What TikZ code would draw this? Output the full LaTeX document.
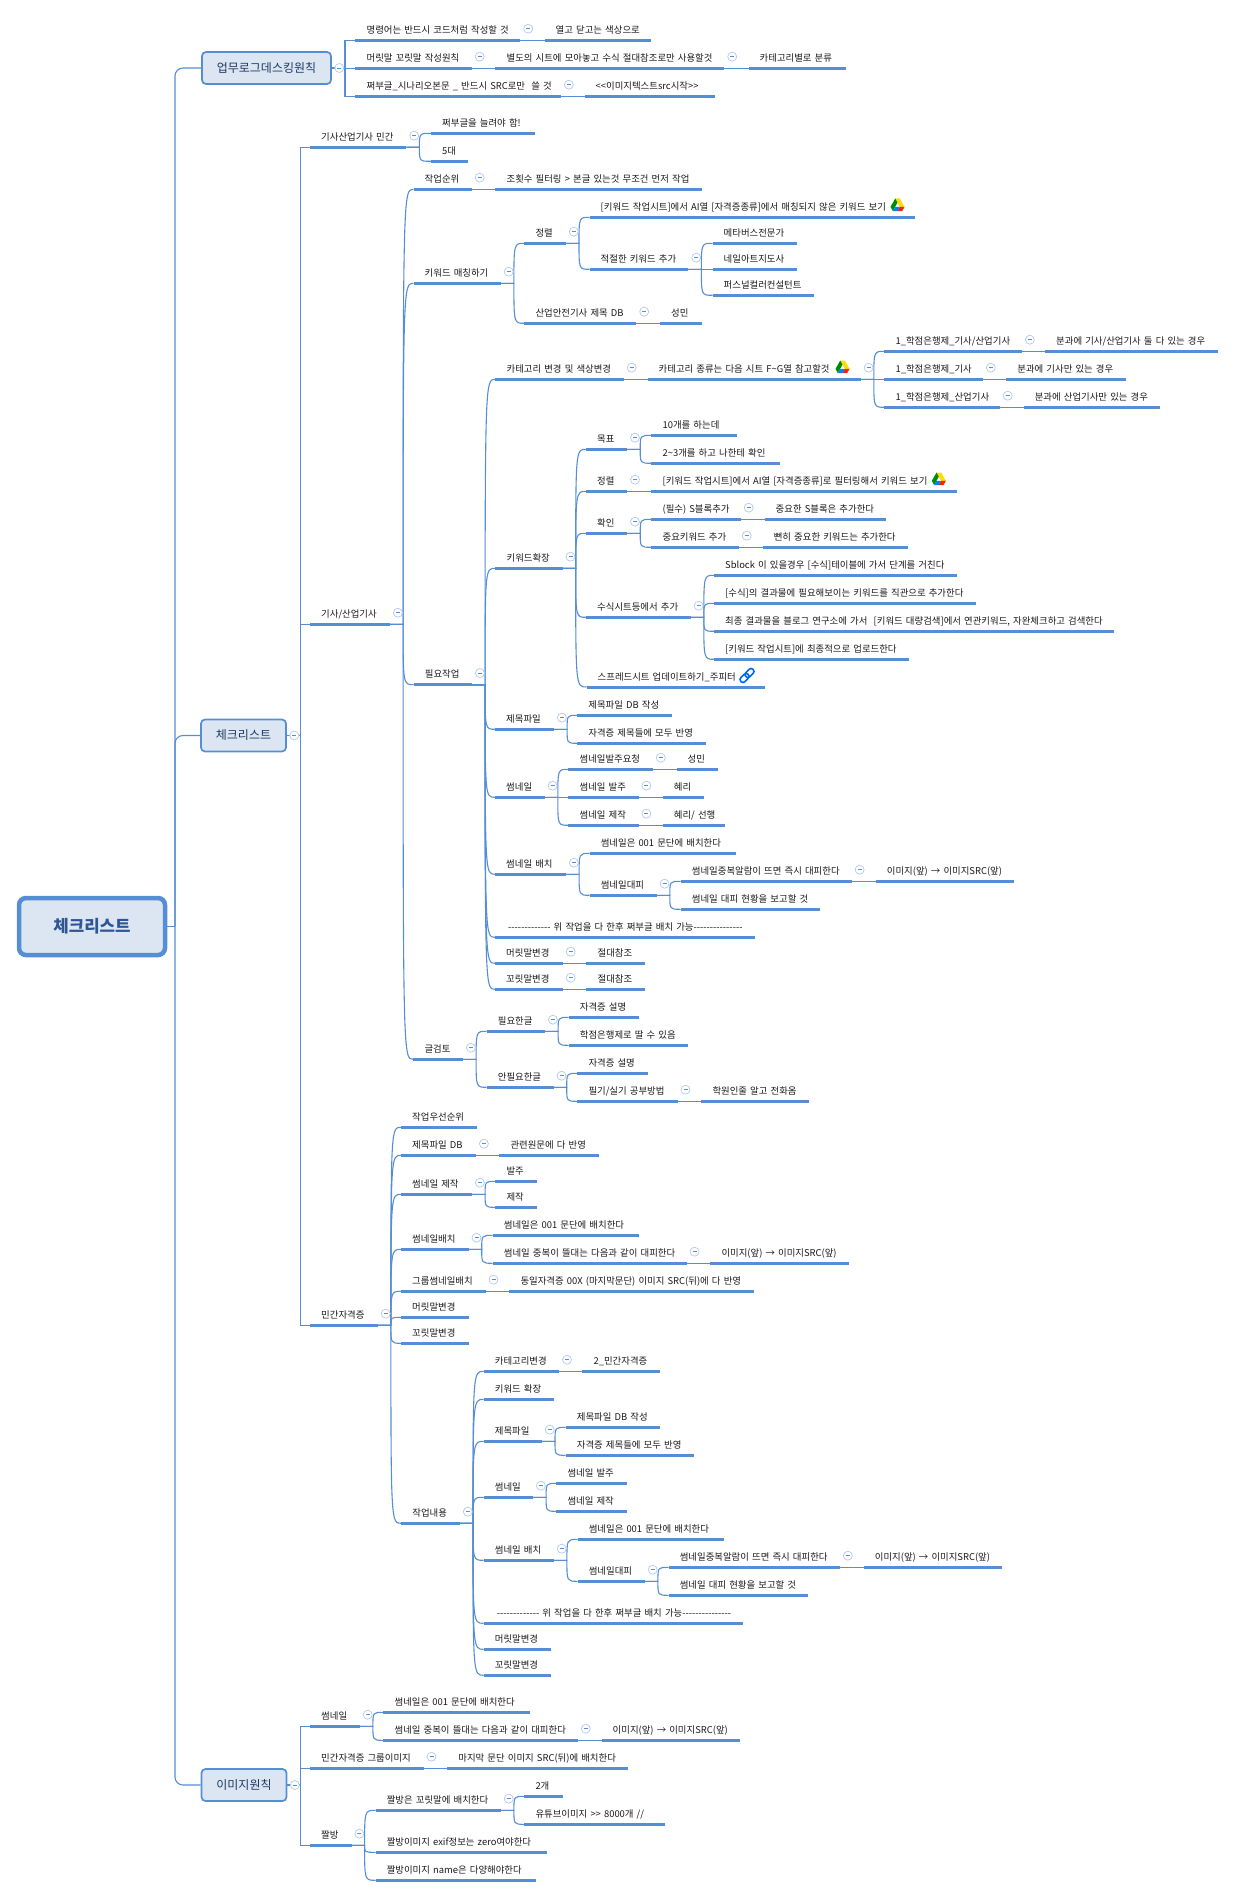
\documentclass[tikz,border=0pt]{standalone}
\usepackage{fontspec}
\setmainfont{Noto Sans CJK KR}
\usetikzlibrary{positioning, calc}

\definecolor{mapblue}{HTML}{558ED5}
\definecolor{boxfill}{HTML}{DCE6F2}
\definecolor{boxtext}{HTML}{1F3864}
\definecolor{roottext}{HTML}{2F5597}
\definecolor{foldblue}{HTML}{B4C7F0}

\tikzset{
  topic/.style={anchor=south west, inner xsep=11pt, inner ysep=4.25pt, text height=9pt, text depth=2.5pt,
    align=left, text=black!90, font=\fontsize{9.4}{11}\selectfont},
  topicbar/.style={draw=mapblue, line width=3pt},
  link/.style={draw=mapblue, line width=1.1pt},
  rootbox/.style={draw=mapblue, fill=boxfill, line width=4.5pt, rounded corners=7pt, minimum width=146pt,
    minimum height=57pt, text=roottext, font=\fontsize{16.8}{20}\selectfont\bfseries},
  groupbox/.style={draw=mapblue, fill=boxfill, line width=1.7pt, rounded corners=4pt, minimum height=32pt,
    text=boxtext, font=\fontsize{12}{14}\selectfont},
  fold/.style={circle, draw=foldblue, fill=white, minimum size=9pt, inner sep=0pt, line width=.7pt,
    path picture={\draw[mapblue, line width=.5pt] ([xshift=-2pt]path picture bounding box.center) -- ([xshift=2pt]path picture bounding box.center);}},
  drive/.pic={
    \fill[yellow!80!orange] (-2.3,-6.5) -- (2.3,-6.5) -- (7,1.9) -- (2.3,1.9) -- cycle;
    \fill[green!55!black] (-2.3,-6.5) -- (0,-2.4) -- (-4.7,6) -- (-7,1.9) -- cycle;
    \fill[red!75!orange] (2.3,1.9) -- (7,1.9) -- (4.7,6) -- (0,6) -- cycle;
    \fill[blue!50!cyan] (-2.3,1.9) -- (2.3,1.9) -- (0,6) -- (-4.7,6) -- cycle;
  },
  chain/.pic={
    \draw[blue!60!cyan, line width=1.6pt, rounded corners=2.4pt, rotate=45] (-8.5,-2.8) rectangle (1.5,2.8) (-1.5,-2.8) rectangle (8.5,2.8);
  }
}

\newcommand{\topic}[5]{
  \node[topic, text width={(#3-#2-22)*1pt}] (#1) at (#2,#4) {\mbox{#5}};
  \draw[topicbar] (#1.south west) -- (#1.south east);
}
\newcommand{\linkto}[2]{\draw[link] (#1.south east) -- (#2.south west);}
\newcommand{\forkto}[2]{
  \coordinate (#1x) at ([xshift=13pt]#1.south east);
  \foreach \kid in {#2} {
    \draw[link] (#1.south east) -- (#1x) .. controls (#1x |- \kid.south west) .. (\kid.south west);
  }
}
\newcommand{\imgarrow}{이미지(앞) → 이미지SRC(앞)}
\newcommand{\laterline}{\hspace*{2pt}-{}-{}-{}-{}-{}-{}-{}-{}-{}-{}-{}-{}-{} 위 작업을 다 한후 쩌부글 배치 가능-{}-{}-{}-{}-{}-{}-{}-{}-{}-{}-{}-{}-{}-{}-{}}

\begin{document}
\begin{tikzpicture}[x=1pt, y=-1pt]
  \useasboundingbox (0,0) rectangle (1235,1897);

  \node[rootbox] (root) at (92,926.5) {체크리스트};
  \node[groupbox, minimum width=129pt] (upload) at (266.5,68) {업무로그데스킹원칙};
  \node[groupbox, minimum width=85pt] (check) at (243.5,735.5) {체크리스트};
  \node[groupbox, minimum width=85pt] (image) at (244,1785) {이미지원칙};

  \coordinate (hub) at (175,926.5);
  \coordinate (uploadhub) at (345,68);
  \coordinate (checkhub) at (300.3,735.5);
  \coordinate (imagehub) at (300.3,1785);

  \topic{ruleA}{355.4}{520}{40.3}{명령어는 반드시 코드처럼 작성할 것}
  \topic{ruleAa}{544.5}{651}{40.3}{열고 닫고는 색상으로}
  \topic{ruleB}{355.4}{471.5}{68.3}{머릿말 꼬릿말 작성원칙}
  \topic{ruleBa}{495.4}{724}{68.3}{별도의 시트에 모아놓고 수식 절대참조로만 사용할것}
  \topic{ruleBb}{748.5}{845.5}{68.3}{카테고리별로 분류}
  \topic{ruleC}{355.4}{560.6}{96.3}{쩌부글\_시나리오본문 \_ 반드시 SRC로만\ \ 쓸 것}
  \topic{ruleCa}{584.5}{715}{96.3}{<{}<이미지텍스트src시작>{}>}

  \topic{civil}{310}{406}{147.3}{기사산업기사 민간}
  \topic{civilA}{431}{535}{133.3}{쩌부글을 늘려야 함!}
  \topic{civilB}{431}{468}{161.3}{5대}

  \topic{eng}{310}{389.7}{624.3}{기사/산업기사}
  \topic{order}{413.5}{471.5}{189.3}{작업순위}
  \topic{orderA}{495.4}{701.5}{189.3}{조횟수 필터링 > 본글 있는것 무조건 먼저 작업}
  \topic{match}{413.5}{500.5}{283.3}{키워드 매칭하기}
  \topic{sortA}{524.3}{565.6}{243.3}{정렬}
  \topic{sortAa}{589.5}{914.5}{217.3}{[키워드 작업시트]에서 AI열 [자격증종류]에서 매칭되지 않은 키워드 보기}
  \topic{addkw}{589.5}{688}{269.3}{적절한 키워드 추가}
  \topic{addkwA}{712.5}{796.5}{243.3}{메타버스전문가}
  \topic{addkwB}{712.5}{796.5}{269.3}{네일아트지도사}
  \topic{addkwC}{712.5}{814}{295.3}{퍼스널컬러컨설턴트}
  \topic{safedb}{524.3}{636}{323.3}{산업안전기사 제목 DB}
  \topic{safedbA}{660}{701.5}{323.3}{성민}

  \topic{need}{413.7}{471.7}{684.7}{필요작업}
  \topic{cat}{495.4}{623.5}{379.3}{카테고리 변경 및 색상변경}
  \topic{catA}{647.5}{860.4}{379.3}{카테고리 종류는 다음 시트 F\textasciitilde G열 참고할것}
  \topic{credA}{884.4}{1021.6}{351.3}{1\_학점은행제\_기사/산업기사}
  \topic{credAa}{1045}{1217.6}{351.3}{분과에 기사/산업기사 둘 다 있는 경우}
  \topic{credB}{884.4}{982.6}{379.3}{1\_학점은행제\_기사}
  \topic{credBa}{1006.2}{1125.6}{379.3}{분과에 기사만 있는 경우}
  \topic{credC}{884.4}{999.5}{407.3}{1\_학점은행제\_산업기사}
  \topic{credCa}{1023.6}{1159.3}{407.3}{분과에 산업기사만 있는 경우}

  \topic{expand}{495.4}{562.3}{568.3}{키워드확장}
  \topic{goal}{586}{626.8}{449.3}{목표}
  \topic{goalA}{651.4}{736.6}{435.3}{10개를 하는데}
  \topic{goalB}{651.4}{779.5}{463.3}{2\textasciitilde 3개를 하고 나한테 확인}
  \topic{sortB}{586}{626.8}{491.3}{정렬}
  \topic{sortBa}{651.4}{956.7}{491.3}{[키워드 작업시트]에서 AI열 [자격증종류]로 필터링해서 키워드 보기}
  \topic{verify}{586}{626.8}{533.3}{확인}
  \topic{verifyA}{651.4}{740.5}{519.3}{(필수) S블록추가}
  \topic{verifyAa}{764.5}{885.4}{519.3}{중요한 S블록은 추가한다}
  \topic{verifyB}{651.4}{738.5}{547.3}{중요키워드 추가}
  \topic{verifyBa}{762.6}{907.5}{547.3}{뻔히 중요한 키워드는 추가한다}
  \topic{sheet}{586}{690.4}{617.3}{수식시트등에서 추가}
  \topic{sheetA}{714}{956.7}{575.3}{Sblock 이 있을경우 [수식]테이블에 가서 단계를 거친다}
  \topic{sheetB}{714}{975.4}{603.3}{[수식]의 결과물에 필요해보이는 키워드를 직관으로 추가한다}
  \topic{sheetC}{714}{1113.6}{631.3}{최종 결과물을 블로그 연구소에 가서\ \ [키워드 대량검색]에서 연관키워드, 자완체크하고 검색한다}
  \topic{sheetD}{714}{908.5}{659.3}{[키워드 작업시트]에 최종적으로 업로드한다}
  \topic{jupyter}{586.5}{764.5}{687}{스프레드시트 업데이트하기\_주피터}

  \topic{title}{495}{553.7}{729.3}{제목파일}
  \topic{titleA}{577.2}{671.5}{715.3}{제목파일 DB 작성}
  \topic{titleB}{577.2}{705.6}{743.3}{자격증 제목들에 모두 반영}

  \topic{thumb}{495}{544.4}{797.3}{썸네일}
  \topic{thumbA}{568.4}{652.6}{769.3}{썸네일발주요청}
  \topic{thumbAa}{676.5}{717.4}{769.3}{성민}
  \topic{thumbB}{568.4}{638.2}{797.3}{썸네일 발주}
  \topic{thumbBa}{662.7}{703.5}{797.3}{혜리}
  \topic{thumbC}{568.4}{638.2}{825.3}{썸네일 제작}
  \topic{thumbCa}{662.7}{724.5}{825.3}{혜리/ 선행}

  \topic{place}{495}{565.7}{874.3}{썸네일 배치}
  \topic{placeA}{589.6}{735.4}{853.3}{썸네일은 001 문단에 배치한다}
  \topic{dodge}{589.6}{656.4}{895.3}{썸네일대피}
  \topic{dodgeA}{680.7}{851.4}{881.3}{썸네일중복알람이 뜨면 즉시 대피한다}
  \topic{dodgeAa}{875.7}{1013.2}{881.3}{\imgarrow}
  \topic{dodgeB}{680.7}{819.3}{909.3}{썸네일 대피 현황을 보고할 것}
  \topic{later}{495}{754.3}{937.3}{\laterline}
  \topic{head}{495}{562.5}{963.3}{머릿말변경}
  \topic{headA}{586.4}{644.3}{963.3}{절대참조}
  \topic{tail}{495}{562.5}{989.3}{꼬릿말변경}
  \topic{tailA}{586.4}{644.3}{989.3}{절대참조}

  \topic{review}{413.3}{462.7}{1059.3}{글검토}
  \topic{must}{486.7}{544.7}{1031.3}{필요한글}
  \topic{mustA}{568.7}{638.7}{1017.3}{자격증 설명}
  \topic{mustB}{568.7}{687.3}{1045.3}{학점은행제로 딸 수 있음}
  \topic{nomust}{486.7}{553.3}{1087.3}{안필요한글}
  \topic{nomustA}{577.3}{647.3}{1073.3}{자격증 설명}
  \topic{nomustB}{577.3}{677.3}{1101.3}{필기/실기 공부방법}
  \topic{nomustBa}{701.3}{808.7}{1101.3}{학원인줄 알고 전화옴}

  \topic{priv}{310}{377.5}{1325.3}{민간자격증}
  \topic{prio}{401}{476.7}{1127.3}{작업우선순위}
  \topic{pdb}{401}{475.7}{1155.3}{제목파일 DB}
  \topic{pdbA}{499.3}{598.7}{1155.3}{관련원문에 다 반영}
  \topic{pmake}{401}{471.7}{1194.3}{썸네일 제작}
  \topic{pmakeA}{495.3}{536.7}{1181.3}{발주}
  \topic{pmakeB}{495.3}{536.7}{1207.3}{제작}
  \topic{pplace}{401}{468.3}{1249.3}{썸네일배치}
  \topic{pplaceA}{492.7}{638.7}{1235.3}{썸네일은 001 문단에 배치한다}
  \topic{pplaceB}{492.7}{686.3}{1263.3}{썸네일 중복이 뜰대는 다음과 같이 대피한다}
  \topic{pplaceBa}{710.3}{848.7}{1263.3}{\imgarrow}
  \topic{pgroup}{401}{485.3}{1291.3}{그룹썸네일배치}
  \topic{pgroupA}{509.3}{753.7}{1291.3}{동일자격증 00X (마지막문단) 이미지 SRC(뒤)에 다 반영}
  \topic{phead}{401}{468.3}{1317.3}{머릿말변경}
  \topic{ptail}{401}{468.3}{1343.3}{꼬릿말변경}

  \topic{work}{401.2}{459.6}{1523.3}{작업내용}
  \topic{wcat}{483.7}{558.8}{1371.3}{카테고리변경}
  \topic{wcatA}{582.4}{659.6}{1371.3}{2\_민간자격증}
  \topic{wkey}{483.7}{553.5}{1399.3}{키워드 확장}
  \topic{wtitle}{483.7}{541.6}{1441.3}{제목파일}
  \topic{wtitleA}{565.7}{659.6}{1427.3}{제목파일 DB 작성}
  \topic{wtitleB}{565.7}{693.5}{1455.3}{자격증 제목들에 모두 반영}
  \topic{wthumb}{483.7}{532.7}{1497.3}{썸네일}
  \topic{wthumbA}{556.3}{626.5}{1483.3}{썸네일 발주}
  \topic{wthumbB}{556.3}{626.5}{1511.3}{썸네일 제작}
  \topic{wplace}{483.7}{553.5}{1560.3}{썸네일 배치}
  \topic{wplaceA}{577.6}{723.7}{1539.3}{썸네일은 001 문단에 배치한다}
  \topic{wdodge}{577.6}{644.5}{1581.3}{썸네일대피}
  \topic{wdodgeA}{668.6}{839.6}{1567.3}{썸네일중복알람이 뜨면 즉시 대피한다}
  \topic{wdodgeAa}{863.7}{1001.6}{1567.3}{\imgarrow}
  \topic{wdodgeB}{668.6}{807.8}{1595.3}{썸네일 대피 현황을 보고할 것}
  \topic{wlater}{483.7}{742.4}{1623.3}{\laterline}
  \topic{whead}{483.7}{550.6}{1649.3}{머릿말변경}
  \topic{wtail}{483.7}{550.6}{1675.3}{꼬릿말변경}

  \topic{ithumb}{310}{359.5}{1726.3}{썸네일}
  \topic{ithumbA}{383.4}{529.4}{1712.3}{썸네일은 001 문단에 배치한다}
  \topic{ithumbB}{383.4}{577.6}{1740.3}{썸네일 중복이 뜰대는 다음과 같이 대피한다}
  \topic{ithumbBa}{601.5}{740}{1740.3}{\imgarrow}
  \topic{igroup}{310}{423.3}{1768.3}{민간자격증 그룹이미지}
  \topic{igroupA}{447.2}{627.6}{1768.3}{마지막 문단 이미지 SRC(뒤)에 배치한다}
  \topic{meme}{310}{351.2}{1845.3}{짤방}
  \topic{memeA}{375.6}{500.5}{1810.3}{짤방은 꼬릿말에 배치한다}
  \topic{memeAa}{524.3}{562.4}{1796.3}{2개}
  \topic{memeAb}{524.3}{664.4}{1824.3}{유튜브이미지 >{}> 8000개 //}
  \topic{memeB}{375.6}{546.4}{1852.3}{짤방이미지 exif정보는 zero여야한다}
  \topic{memeC}{375.6}{535.4}{1880.3}{짤방이미지 name은 다양해야한다}

  \pic at (897.5,205) {drive};
  \pic at (842.5,367) {drive};
  \pic at (938.8,479) {drive};
  \pic at (747,675.5) {chain};

  \draw[link] (root.east) -- (hub);
  \draw[link, rounded corners=8pt] (hub) |- (upload.west);
  \draw[link, rounded corners=8pt] (hub) |- (check.west);
  \draw[link, rounded corners=8pt] (hub) |- (image.west);

  \draw[link] (upload.east) -- (uploadhub);
  \foreach \kid in {ruleA, ruleB, ruleC} {\draw[link] (uploadhub) |- (\kid.south west);}
  \draw[link] (check.east) -- (checkhub);
  \foreach \kid in {civil, eng, priv} {\draw[link] (checkhub) |- (\kid.south west);}
  \draw[link] (image.east) -- (imagehub);
  \foreach \kid in {ithumb, igroup, meme} {\draw[link] (imagehub) |- (\kid.south west);}

  \forkto{civil}{civilA, civilB}
  \forkto{eng}{order, match, need, review}
  \forkto{match}{sortA, safedb}
  \forkto{sortA}{sortAa, addkw}
  \forkto{addkw}{addkwA, addkwB, addkwC}
  \forkto{need}{cat, expand, title, thumb, place, later, head, tail}
  \forkto{catA}{credA, credB, credC}
  \forkto{expand}{goal, sortB, verify, sheet, jupyter}
  \forkto{goal}{goalA, goalB}
  \forkto{verify}{verifyA, verifyB}
  \forkto{sheet}{sheetA, sheetB, sheetC, sheetD}
  \forkto{title}{titleA, titleB}
  \forkto{thumb}{thumbA, thumbB, thumbC}
  \forkto{place}{placeA, dodge}
  \forkto{dodge}{dodgeA, dodgeB}
  \forkto{review}{must, nomust}
  \forkto{must}{mustA, mustB}
  \forkto{nomust}{nomustA, nomustB}
  \forkto{priv}{prio, pdb, pmake, pplace, pgroup, phead, ptail, work}
  \forkto{pmake}{pmakeA, pmakeB}
  \forkto{pplace}{pplaceA, pplaceB}
  \forkto{work}{wcat, wkey, wtitle, wthumb, wplace, wlater, whead, wtail}
  \forkto{wtitle}{wtitleA, wtitleB}
  \forkto{wthumb}{wthumbA, wthumbB}
  \forkto{wplace}{wplaceA, wdodge}
  \forkto{wdodge}{wdodgeA, wdodgeB}
  \forkto{ithumb}{ithumbA, ithumbB}
  \forkto{meme}{memeA, memeB, memeC}
  \forkto{memeA}{memeAa, memeAb}

  \linkto{ruleA}{ruleAa}
  \linkto{ruleB}{ruleBa}
  \linkto{ruleBa}{ruleBb}
  \linkto{ruleC}{ruleCa}
  \linkto{order}{orderA}
  \linkto{safedb}{safedbA}
  \linkto{cat}{catA}
  \linkto{credA}{credAa}
  \linkto{credB}{credBa}
  \linkto{credC}{credCa}
  \linkto{sortB}{sortBa}
  \linkto{verifyA}{verifyAa}
  \linkto{verifyB}{verifyBa}
  \linkto{thumbA}{thumbAa}
  \linkto{thumbB}{thumbBa}
  \linkto{thumbC}{thumbCa}
  \linkto{dodgeA}{dodgeAa}
  \linkto{head}{headA}
  \linkto{tail}{tailA}
  \linkto{nomustB}{nomustBa}
  \linkto{pdb}{pdbA}
  \linkto{pplaceB}{pplaceBa}
  \linkto{pgroup}{pgroupA}
  \linkto{wcat}{wcatA}
  \linkto{wdodgeA}{wdodgeAa}
  \linkto{ithumbB}{ithumbBa}
  \linkto{igroup}{igroupA}

  \node[fold] (uploadf) at ([xshift=7.5pt]upload.east) {};
  \node[fold] (checkf) at ([xshift=7.5pt]check.east) {};
  \node[fold] (imagef) at ([xshift=7.5pt]image.east) {};
  \foreach \n in {ruleA, ruleB, ruleBa, ruleC, civil, eng, order, match, sortA, addkw, safedb, need, cat, catA,
    credA, credB, credC, expand, goal, sortB, verify, verifyA, verifyB, sheet, title, thumb, thumbA, thumbB, thumbC,
    place, dodge, dodgeA, head, tail, review, must, nomust, nomustB, priv, pdb, pmake, pplace, pplaceB, pgroup,
    work, wcat, wtitle, wthumb, wplace, wdodge, wdodgeA, ithumb, ithumbB, igroup, meme, memeA} {
    \node[fold] (\n-f) at ([xshift=7.8pt,yshift=11.6pt]\n.south east) {};
  }
\end{tikzpicture}
\end{document}
